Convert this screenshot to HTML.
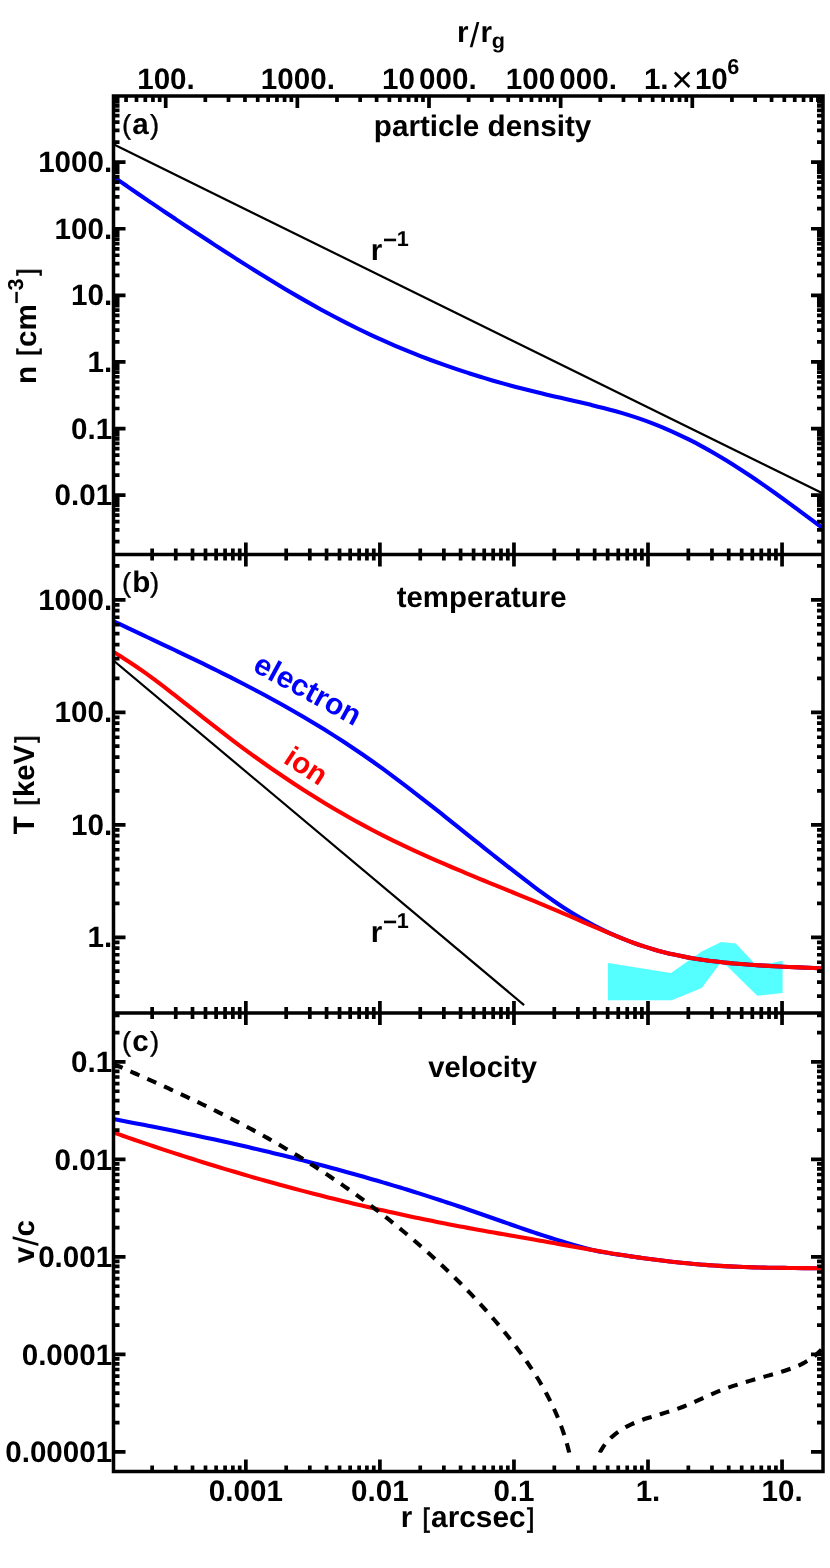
<!DOCTYPE html>
<html><head><meta charset="utf-8"><title>chart</title>
<style>
html,body{margin:0;padding:0;background:#fff;}
body{width:830px;height:1568px;overflow:hidden;}
svg{display:block;will-change:transform;}
text{font-family:"Liberation Sans",sans-serif;font-weight:bold;text-rendering:geometricPrecision;}
</style></head><body>
<svg width="830" height="1568" viewBox="0 0 830 1568">
<rect width="830" height="1568" fill="#fff"/>
<defs><clipPath id="cf"><rect x="113.5" y="96.1" width="709.5" height="1375.4"/></clipPath><clipPath id="cd"><rect x="113.5" y="1013" width="709.5" height="439.7"/></clipPath></defs>
<g clip-path="url(#cf)" fill="none" stroke-linejoin="round">
<polygon points="607.9,963 671,972.9 701.7,951.4 721.2,941.9 735.7,943.4 757,966 782.6,960.8 782.6,992.9 757.3,995.8 721.9,961 701.7,988.1 671.8,1000.2 607.9,1000.2" fill="#55ffff" stroke="none"/>
<line x1="113.5" y1="144.3" x2="823" y2="493.6" stroke="#000" stroke-width="2.2"/>
<line x1="113.5" y1="660.5" x2="524.1" y2="1005.1" stroke="#000" stroke-width="2.2"/>
<path d="M113.5,176.79C115.54,178.2 121.67,182.46 125.75,185.28C129.83,188.1 133.92,190.91 138,193.71C142.08,196.51 146.17,199.29 150.25,202.07C154.33,204.84 158.42,207.6 162.5,210.35C166.58,213.1 170.67,215.84 174.75,218.57C178.83,221.3 182.92,224.02 187,226.72C191.08,229.43 195.17,232.12 199.25,234.8C203.33,237.48 207.42,240.16 211.5,242.81C215.58,245.47 219.67,248.12 223.75,250.75C227.83,253.39 231.92,256.01 236,258.62C240.08,261.22 244.17,263.81 248.25,266.38C252.33,268.95 256.42,271.5 260.5,274.03C264.58,276.56 268.67,279.06 272.75,281.54C276.83,284.03 280.92,286.49 285,288.91C289.08,291.34 293.17,293.75 297.25,296.12C301.33,298.49 305.42,300.83 309.5,303.14C313.58,305.44 317.67,307.72 321.75,309.96C325.83,312.19 329.92,314.4 334,316.56C338.08,318.72 342.17,320.84 346.25,322.92C350.33,325 354.42,327.04 358.5,329.04C362.58,331.03 366.67,332.98 370.75,334.89C374.83,336.8 378.92,338.66 383,340.49C387.08,342.31 391.17,344.1 395.25,345.84C399.33,347.58 403.42,349.28 407.5,350.95C411.58,352.61 415.67,354.24 419.75,355.82C423.83,357.41 427.92,358.96 432,360.48C436.08,361.99 440.17,363.47 444.25,364.91C448.33,366.36 452.42,367.77 456.5,369.14C460.58,370.52 464.67,371.86 468.75,373.17C472.83,374.48 476.92,375.76 481,377.01C485.08,378.25 489.17,379.47 493.25,380.66C497.33,381.85 501.42,383 505.5,384.13C509.58,385.27 513.67,386.37 517.75,387.44C521.83,388.52 525.92,389.57 530,390.59C534.08,391.62 538.17,392.61 542.25,393.59C546.33,394.56 550.42,395.51 554.5,396.45C558.58,397.39 562.67,398.31 566.75,399.25C570.83,400.18 574.92,401.1 579,402.05C583.08,403 587.17,403.95 591.25,404.94C595.33,405.93 599.42,406.94 603.5,408C607.58,409.05 611.67,410.14 615.75,411.29C619.83,412.44 623.92,413.63 628,414.9C632.08,416.17 636.17,417.49 640.25,418.9C644.33,420.31 648.42,421.8 652.5,423.37C656.58,424.94 660.67,426.59 664.75,428.33C668.83,430.06 672.92,431.88 677,433.78C681.08,435.67 685.17,437.65 689.25,439.7C693.33,441.75 697.42,443.88 701.5,446.09C705.58,448.29 709.67,450.58 713.75,452.93C717.83,455.29 721.92,457.72 726,460.22C730.08,462.72 734.17,465.29 738.25,467.92C742.33,470.55 746.42,473.25 750.5,475.99C754.58,478.73 758.67,481.53 762.75,484.37C766.83,487.2 770.92,490.09 775,493C779.08,495.91 783.17,498.87 787.25,501.84C791.33,504.81 795.42,507.81 799.5,510.82C803.58,513.83 807.67,516.86 811.75,519.9C815.83,522.93 821.96,527.5 824,529.02" stroke="#0000ff" stroke-width="4.1"/>
<path d="M113.5,621.26C115.17,622.05 120.17,624.4 123.51,625.97C126.84,627.54 130.18,629.11 133.51,630.67C136.85,632.24 140.19,633.8 143.52,635.37C146.86,636.93 150.19,638.5 153.53,640.07C156.86,641.63 160.2,643.2 163.54,644.78C166.87,646.35 170.21,647.93 173.54,649.51C176.88,651.1 180.21,652.68 183.55,654.28C186.88,655.87 190.22,657.47 193.56,659.08C196.89,660.69 200.23,662.31 203.56,663.94C206.9,665.57 210.23,667.2 213.57,668.85C216.91,670.5 220.24,672.15 223.58,673.82C226.91,675.5 230.25,677.18 233.58,678.87C236.92,680.57 240.26,682.28 243.59,684.01C246.93,685.73 250.26,687.47 253.6,689.23C256.93,690.99 260.27,692.77 263.61,694.56C266.94,696.35 270.28,698.16 273.61,699.99C276.95,701.82 280.28,703.67 283.62,705.55C286.96,707.42 290.29,709.31 293.63,711.22C296.96,713.14 300.3,715.08 303.63,717.04C306.97,719 310.31,720.99 313.64,723C316.98,725.01 320.31,727.04 323.65,729.11C326.98,731.17 330.32,733.26 333.65,735.38C336.99,737.5 340.33,739.65 343.66,741.82C347,744 350.33,746.21 353.67,748.44C357,750.68 360.34,752.95 363.68,755.25C367.01,757.56 370.35,759.89 373.68,762.26C377.02,764.63 380.35,767.03 383.69,769.46C387.03,771.88 390.36,774.34 393.7,776.83C397.03,779.31 400.37,781.82 403.7,784.35C407.04,786.88 410.38,789.44 413.71,792.01C417.05,794.58 420.38,797.17 423.72,799.77C427.05,802.38 430.39,805 433.73,807.63C437.06,810.26 440.4,812.9 443.73,815.55C447.07,818.2 450.4,820.87 453.74,823.53C457.08,826.19 460.41,828.86 463.75,831.53C467.08,834.2 470.42,836.87 473.75,839.54C477.09,842.21 480.42,844.87 483.76,847.53C487.1,850.19 490.43,852.85 493.77,855.49C497.1,858.14 500.44,860.78 503.77,863.4C507.11,866.02 510.45,868.64 513.78,871.23C517.12,873.82 520.45,876.41 523.79,878.96C527.12,881.52 530.46,884.06 533.8,886.55C537.13,889.05 540.47,891.52 543.8,893.93C547.14,896.35 550.47,898.72 553.81,901.03C557.15,903.34 560.48,905.59 563.82,907.77C567.15,909.94 570.49,912.05 573.82,914.07C577.16,916.1 580.5,918.04 583.83,919.91C587.17,921.79 590.5,923.57 593.84,925.3C597.17,927.03 600.51,928.67 603.85,930.28C607.18,931.88 610.52,933.43 613.85,934.9C617.19,936.38 620.52,937.77 623.86,939.11C627.19,940.45 630.53,941.73 633.87,942.95C637.2,944.17 640.54,945.32 643.87,946.42C647.21,947.51 650.54,948.53 653.88,949.5C657.22,950.46 660.55,951.36 663.89,952.2C667.22,953.05 670.56,953.83 673.89,954.57C677.23,955.3 680.57,955.98 683.9,956.62C687.24,957.26 690.57,957.85 693.91,958.4C697.24,958.96 700.58,959.46 703.92,959.94C707.25,960.42 710.59,960.86 713.92,961.28C717.26,961.69 720.59,962.07 723.93,962.43C727.27,962.79 730.6,963.12 733.94,963.42C737.27,963.73 740.61,964.01 743.94,964.27C747.28,964.54 750.62,964.78 753.95,965C757.29,965.23 760.62,965.44 763.96,965.64C767.29,965.83 770.63,966.02 773.96,966.19C777.3,966.37 780.64,966.53 783.97,966.69C787.31,966.85 790.64,967 793.98,967.15C797.31,967.3 800.65,967.44 803.99,967.59C807.32,967.74 810.66,967.89 813.99,968.04C817.33,968.19 822.33,968.44 824,968.52" stroke="#0000ff" stroke-width="4.1"/>
<path d="M113.5,652.06C115.17,653.08 120.17,656.07 123.51,658.19C126.84,660.31 130.18,662.5 133.51,664.76C136.85,667.01 140.19,669.33 143.52,671.7C146.86,674.07 150.19,676.5 153.53,678.96C156.86,681.42 160.2,683.94 163.54,686.47C166.87,689.01 170.21,691.59 173.54,694.18C176.88,696.77 180.21,699.39 183.55,702.02C186.88,704.64 190.22,707.29 193.56,709.93C196.89,712.57 200.23,715.22 203.56,717.85C206.9,720.48 210.23,723.12 213.57,725.72C216.91,728.33 220.24,730.92 223.58,733.48C226.91,736.04 230.25,738.58 233.58,741.09C236.92,743.6 240.26,746.09 243.59,748.55C246.93,751.01 250.26,753.44 253.6,755.85C256.93,758.25 260.27,760.64 263.61,762.99C266.94,765.35 270.28,767.67 273.61,769.98C276.95,772.28 280.28,774.55 283.62,776.8C286.96,779.05 290.29,781.27 293.63,783.46C296.96,785.66 300.3,787.82 303.63,789.96C306.97,792.1 310.31,794.21 313.64,796.29C316.98,798.38 320.31,800.43 323.65,802.46C326.98,804.48 330.32,806.48 333.65,808.45C336.99,810.42 340.33,812.36 343.66,814.28C347,816.19 350.33,818.07 353.67,819.93C357,821.78 360.34,823.61 363.68,825.4C367.01,827.2 370.35,828.97 373.68,830.7C377.02,832.44 380.35,834.15 383.69,835.83C387.03,837.51 390.36,839.17 393.7,840.8C397.03,842.43 400.37,844.04 403.7,845.62C407.04,847.21 410.38,848.77 413.71,850.31C417.05,851.85 420.38,853.37 423.72,854.88C427.05,856.38 430.39,857.87 433.73,859.34C437.06,860.81 440.4,862.26 443.73,863.71C447.07,865.15 450.4,866.57 453.74,867.99C457.08,869.41 460.41,870.81 463.75,872.21C467.08,873.61 470.42,874.99 473.75,876.37C477.09,877.75 480.42,879.12 483.76,880.49C487.1,881.86 490.43,883.22 493.77,884.59C497.1,885.95 500.44,887.3 503.77,888.66C507.11,890.02 510.45,891.38 513.78,892.74C517.12,894.1 520.45,895.46 523.79,896.82C527.12,898.19 530.46,899.56 533.8,900.93C537.13,902.31 540.47,903.69 543.8,905.08C547.14,906.47 550.47,907.87 553.81,909.28C557.15,910.69 560.48,912.1 563.82,913.54C567.15,914.97 570.49,916.42 573.82,917.87C577.16,919.33 580.5,920.8 583.83,922.26C587.17,923.73 590.5,925.2 593.84,926.65C597.17,928.11 600.51,929.56 603.85,930.98C607.18,932.4 610.52,933.81 613.85,935.18C617.19,936.55 620.52,937.9 623.86,939.2C627.19,940.5 630.53,941.76 633.87,942.96C637.2,944.17 640.54,945.33 643.87,946.42C647.21,947.51 650.54,948.53 653.88,949.5C657.22,950.46 660.55,951.36 663.89,952.2C667.22,953.05 670.56,953.83 673.89,954.57C677.23,955.3 680.57,955.98 683.9,956.62C687.24,957.26 690.57,957.85 693.91,958.4C697.24,958.96 700.58,959.46 703.92,959.94C707.25,960.42 710.59,960.86 713.92,961.28C717.26,961.69 720.59,962.07 723.93,962.43C727.27,962.79 730.6,963.12 733.94,963.42C737.27,963.73 740.61,964.01 743.94,964.27C747.28,964.54 750.62,964.78 753.95,965C757.29,965.23 760.62,965.44 763.96,965.64C767.29,965.83 770.63,966.02 773.96,966.19C777.3,966.37 780.64,966.53 783.97,966.69C787.31,966.85 790.64,967 793.98,967.15C797.31,967.3 800.65,967.44 803.99,967.59C807.32,967.74 810.66,967.89 813.99,968.04C817.33,968.19 822.33,968.44 824,968.52" stroke="#ff0000" stroke-width="4.1"/>
<path d="M113.5,1119.08C115.17,1119.4 120.17,1120.34 123.51,1120.97C126.84,1121.61 130.18,1122.25 133.51,1122.89C136.85,1123.54 140.19,1124.19 143.52,1124.84C146.86,1125.5 150.19,1126.15 153.53,1126.82C156.86,1127.48 160.2,1128.15 163.54,1128.82C166.87,1129.5 170.21,1130.18 173.54,1130.86C176.88,1131.55 180.21,1132.23 183.55,1132.93C186.88,1133.62 190.22,1134.33 193.56,1135.03C196.89,1135.74 200.23,1136.45 203.56,1137.17C206.9,1137.88 210.23,1138.61 213.57,1139.34C216.91,1140.07 220.24,1140.8 223.58,1141.54C226.91,1142.29 230.25,1143.03 233.58,1143.79C236.92,1144.54 240.26,1145.3 243.59,1146.07C246.93,1146.84 250.26,1147.61 253.6,1148.39C256.93,1149.17 260.27,1149.96 263.61,1150.75C266.94,1151.55 270.28,1152.35 273.61,1153.16C276.95,1153.96 280.28,1154.78 283.62,1155.6C286.96,1156.42 290.29,1157.25 293.63,1158.09C296.96,1158.93 300.3,1159.77 303.63,1160.62C306.97,1161.47 310.31,1162.33 313.64,1163.2C316.98,1164.07 320.31,1164.94 323.65,1165.83C326.98,1166.71 330.32,1167.6 333.65,1168.5C336.99,1169.4 340.33,1170.31 343.66,1171.22C347,1172.14 350.33,1173.06 353.67,1173.99C357,1174.92 360.34,1175.86 363.68,1176.81C367.01,1177.76 370.35,1178.72 373.68,1179.69C377.02,1180.66 380.35,1181.63 383.69,1182.62C387.03,1183.6 390.36,1184.59 393.7,1185.6C397.03,1186.6 400.37,1187.61 403.7,1188.63C407.04,1189.65 410.38,1190.68 413.71,1191.72C417.05,1192.77 420.38,1193.81 423.72,1194.87C427.05,1195.93 430.39,1197 433.73,1198.08C437.06,1199.16 440.4,1200.25 443.73,1201.35C447.07,1202.45 450.4,1203.56 453.74,1204.68C457.08,1205.8 460.41,1206.93 463.75,1208.06C467.08,1209.2 470.42,1210.36 473.75,1211.51C477.09,1212.67 480.42,1213.83 483.76,1215C487.1,1216.17 490.43,1217.34 493.77,1218.51C497.1,1219.68 500.44,1220.85 503.77,1222.02C507.11,1223.18 510.45,1224.35 513.78,1225.5C517.12,1226.66 520.45,1227.81 523.79,1228.95C527.12,1230.09 530.46,1231.22 533.8,1232.34C537.13,1233.45 540.47,1234.56 543.8,1235.64C547.14,1236.73 550.47,1237.8 553.81,1238.85C557.15,1239.9 560.48,1240.93 563.82,1241.93C567.15,1242.93 570.49,1243.92 573.82,1244.87C577.16,1245.82 580.5,1246.75 583.83,1247.65C587.17,1248.54 590.5,1249.46 593.84,1250.24C597.17,1251.03 600.51,1251.74 603.85,1252.35C607.18,1252.96 610.52,1253.42 613.85,1253.91C617.19,1254.4 620.52,1254.82 623.86,1255.31C627.19,1255.79 630.53,1256.33 633.87,1256.82C637.2,1257.31 640.54,1257.79 643.87,1258.25C647.21,1258.71 650.54,1259.15 653.88,1259.58C657.22,1260.01 660.55,1260.42 663.89,1260.82C667.22,1261.22 670.56,1261.6 673.89,1261.96C677.23,1262.33 680.57,1262.67 683.9,1263C687.24,1263.33 690.57,1263.65 693.91,1263.94C697.24,1264.24 700.58,1264.51 703.92,1264.77C707.25,1265.03 710.59,1265.27 713.92,1265.49C717.26,1265.71 720.59,1265.92 723.93,1266.1C727.27,1266.29 730.6,1266.45 733.94,1266.6C737.27,1266.75 740.61,1266.89 743.94,1267.01C747.28,1267.13 750.62,1267.23 753.95,1267.33C757.29,1267.43 760.62,1267.51 763.96,1267.58C767.29,1267.66 770.63,1267.72 773.96,1267.78C777.3,1267.83 780.64,1267.88 783.97,1267.92C787.31,1267.97 790.64,1268 793.98,1268.04C797.31,1268.07 800.65,1268.1 803.99,1268.13C807.32,1268.16 810.66,1268.18 813.99,1268.21C817.33,1268.24 822.33,1268.28 824,1268.29" stroke="#0000ff" stroke-width="4.1"/>
<path d="M113.5,1132.43C115.17,1133.02 120.17,1134.8 123.51,1135.97C126.84,1137.14 130.18,1138.3 133.51,1139.46C136.85,1140.61 140.19,1141.76 143.52,1142.89C146.86,1144.03 150.19,1145.16 153.53,1146.28C156.86,1147.4 160.2,1148.51 163.54,1149.62C166.87,1150.72 170.21,1151.82 173.54,1152.9C176.88,1153.99 180.21,1155.07 183.55,1156.14C186.88,1157.21 190.22,1158.27 193.56,1159.32C196.89,1160.38 200.23,1161.42 203.56,1162.46C206.9,1163.5 210.23,1164.53 213.57,1165.55C216.91,1166.57 220.24,1167.58 223.58,1168.59C226.91,1169.59 230.25,1170.59 233.58,1171.58C236.92,1172.56 240.26,1173.54 243.59,1174.52C246.93,1175.49 250.26,1176.45 253.6,1177.41C256.93,1178.36 260.27,1179.31 263.61,1180.25C266.94,1181.19 270.28,1182.12 273.61,1183.04C276.95,1183.97 280.28,1184.88 283.62,1185.79C286.96,1186.7 290.29,1187.6 293.63,1188.49C296.96,1189.38 300.3,1190.26 303.63,1191.14C306.97,1192.01 310.31,1192.88 313.64,1193.74C316.98,1194.6 320.31,1195.45 323.65,1196.29C326.98,1197.13 330.32,1197.97 333.65,1198.8C336.99,1199.62 340.33,1200.44 343.66,1201.26C347,1202.07 350.33,1202.87 353.67,1203.67C357,1204.46 360.34,1205.25 363.68,1206.03C367.01,1206.81 370.35,1207.58 373.68,1208.35C377.02,1209.11 380.35,1209.87 383.69,1210.62C387.03,1211.37 390.36,1212.11 393.7,1212.84C397.03,1213.57 400.37,1214.3 403.7,1215.02C407.04,1215.73 410.38,1216.44 413.71,1217.15C417.05,1217.85 420.38,1218.54 423.72,1219.23C427.05,1219.92 430.39,1220.6 433.73,1221.27C437.06,1221.94 440.4,1222.6 443.73,1223.26C447.07,1223.92 450.4,1224.56 453.74,1225.2C457.08,1225.85 460.41,1226.48 463.75,1227.1C467.08,1227.73 470.42,1228.35 473.75,1228.96C477.09,1229.57 480.42,1230.18 483.76,1230.78C487.1,1231.38 490.43,1231.97 493.77,1232.57C497.1,1233.16 500.44,1233.75 503.77,1234.33C507.11,1234.92 510.45,1235.5 513.78,1236.08C517.12,1236.67 520.45,1237.25 523.79,1237.83C527.12,1238.41 530.46,1238.99 533.8,1239.57C537.13,1240.15 540.47,1240.74 543.8,1241.32C547.14,1241.91 550.47,1242.5 553.81,1243.09C557.15,1243.68 560.48,1244.28 563.82,1244.88C567.15,1245.48 570.49,1246.08 573.82,1246.69C577.16,1247.29 580.5,1247.89 583.83,1248.49C587.17,1249.09 590.5,1249.69 593.84,1250.28C597.17,1250.86 600.51,1251.45 603.85,1252.02C607.18,1252.59 610.52,1253.15 613.85,1253.7C617.19,1254.25 620.52,1254.78 623.86,1255.3C627.19,1255.82 630.53,1256.33 633.87,1256.82C637.2,1257.31 640.54,1257.79 643.87,1258.25C647.21,1258.71 650.54,1259.15 653.88,1259.58C657.22,1260.01 660.55,1260.42 663.89,1260.82C667.22,1261.22 670.56,1261.6 673.89,1261.96C677.23,1262.33 680.57,1262.67 683.9,1263C687.24,1263.33 690.57,1263.65 693.91,1263.94C697.24,1264.24 700.58,1264.51 703.92,1264.77C707.25,1265.03 710.59,1265.27 713.92,1265.49C717.26,1265.71 720.59,1265.92 723.93,1266.1C727.27,1266.29 730.6,1266.45 733.94,1266.6C737.27,1266.75 740.61,1266.89 743.94,1267.01C747.28,1267.13 750.62,1267.23 753.95,1267.33C757.29,1267.43 760.62,1267.51 763.96,1267.58C767.29,1267.66 770.63,1267.72 773.96,1267.78C777.3,1267.83 780.64,1267.88 783.97,1267.92C787.31,1267.97 790.64,1268 793.98,1268.04C797.31,1268.07 800.65,1268.1 803.99,1268.13C807.32,1268.16 810.66,1268.18 813.99,1268.21C817.33,1268.24 822.33,1268.28 824,1268.29" stroke="#ff0000" stroke-width="4.1"/>
</g>
<g clip-path="url(#cd)" fill="none">
<path d="M113.64,1063.98C114.56,1064.38 117.33,1065.6 119.18,1066.41C121.02,1067.22 122.87,1068.04 124.72,1068.85C126.57,1069.67 128.42,1070.48 130.26,1071.3C132.11,1072.12 133.96,1072.93 135.81,1073.75C137.66,1074.57 139.51,1075.4 141.36,1076.22C143.21,1077.04 145.06,1077.87 146.91,1078.7C148.76,1079.52 150.61,1080.35 152.46,1081.18C154.31,1082.01 156.16,1082.85 158.01,1083.68C159.86,1084.52 161.7,1085.36 163.55,1086.2C165.4,1087.04 167.25,1087.88 169.09,1088.73C170.94,1089.57 172.79,1090.42 174.63,1091.27C176.47,1092.12 178.32,1092.97 180.16,1093.83C182,1094.69 183.85,1095.54 185.69,1096.41C187.53,1097.27 189.37,1098.13 191.2,1099C193.04,1099.87 194.88,1100.74 196.71,1101.62C198.55,1102.49 200.38,1103.37 202.21,1104.25C204.05,1105.14 205.88,1106.02 207.7,1106.91C209.53,1107.8 211.36,1108.7 213.18,1109.59C215.01,1110.49 216.83,1111.39 218.65,1112.3C220.47,1113.2 222.29,1114.11 224.11,1115.03C225.92,1115.94 227.74,1116.86 229.55,1117.78C231.36,1118.7 233.17,1119.63 234.97,1120.56C236.78,1121.5 238.58,1122.43 240.38,1123.37C242.18,1124.31 243.98,1125.26 245.78,1126.21C247.57,1127.16 249.36,1128.12 251.15,1129.08C252.94,1130.04 254.73,1131 256.51,1131.98C258.29,1132.95 260.07,1133.92 261.85,1134.91C263.62,1135.89 265.4,1136.88 267.17,1137.87C268.93,1138.86 270.7,1139.86 272.46,1140.87C274.22,1141.87 275.98,1142.88 277.74,1143.9C279.49,1144.91 281.24,1145.93 282.99,1146.96C284.74,1147.99 286.48,1149.02 288.22,1150.06C289.96,1151.09 291.7,1152.14 293.43,1153.19C295.17,1154.23 296.9,1155.29 298.62,1156.35C300.35,1157.41 302.07,1158.47 303.79,1159.55C305.51,1160.62 307.22,1161.69 308.93,1162.78C310.64,1163.86 312.35,1164.95 314.06,1166.04C315.76,1167.13 317.46,1168.23 319.16,1169.34C320.85,1170.44 322.54,1171.55 324.23,1172.67C325.92,1173.78 327.61,1174.9 329.29,1176.03C330.97,1177.16 332.65,1178.29 334.32,1179.43C335.99,1180.57 337.66,1181.71 339.33,1182.86C341,1184.01 342.66,1185.16 344.32,1186.32C345.97,1187.48 347.63,1188.65 349.28,1189.82C350.93,1190.99 352.58,1192.17 354.22,1193.35C355.86,1194.53 357.5,1195.72 359.14,1196.91C360.77,1198.1 362.4,1199.3 364.03,1200.51C365.65,1201.71 367.28,1202.92 368.9,1204.14C370.52,1205.35 372.13,1206.57 373.74,1207.8C375.35,1209.02 376.96,1210.26 378.56,1211.49C380.17,1212.73 381.76,1213.97 383.36,1215.22C384.95,1216.47 386.55,1217.73 388.13,1218.98C389.72,1220.24 391.3,1221.51 392.88,1222.78C394.46,1224.05 396.03,1225.33 397.6,1226.61C399.17,1227.89 400.74,1229.18 402.3,1230.47C403.86,1231.76 405.42,1233.06 406.98,1234.36C408.53,1235.67 410.08,1236.98 411.63,1238.29C413.17,1239.6 414.71,1240.92 416.25,1242.25C417.79,1243.58 419.32,1244.91 420.85,1246.24C422.38,1247.58 423.9,1248.92 425.42,1250.27C426.94,1251.62 428.45,1252.97 429.96,1254.33C431.47,1255.69 432.98,1257.05 434.48,1258.42C435.98,1259.8 437.47,1261.17 438.96,1262.55C440.45,1263.94 441.94,1265.32 443.42,1266.72C444.9,1268.11 446.37,1269.51 447.84,1270.92C449.31,1272.32 450.77,1273.73 452.23,1275.15C453.68,1276.57 455.13,1277.99 456.58,1279.42C458.02,1280.85 459.46,1282.28 460.9,1283.72C462.33,1285.17 463.76,1286.61 465.18,1288.07C466.6,1289.52 468.01,1290.98 469.42,1292.44C470.83,1293.91 472.23,1295.38 473.62,1296.86C475.02,1298.34 476.41,1299.82 477.79,1301.31C479.17,1302.8 480.54,1304.3 481.91,1305.8C483.27,1307.31 484.63,1308.82 485.99,1310.33C487.34,1311.85 488.68,1313.37 490.02,1314.9C491.36,1316.43 492.69,1317.96 494.01,1319.5C495.33,1321.04 496.65,1322.59 497.95,1324.15C499.26,1325.7 500.56,1327.26 501.85,1328.83C503.14,1330.4 504.42,1331.97 505.7,1333.55C506.97,1335.13 508.24,1336.72 509.5,1338.32C510.75,1339.91 512,1341.51 513.24,1343.12C514.48,1344.73 515.7,1346.35 516.92,1347.97C518.14,1349.59 519.34,1351.22 520.54,1352.86C521.73,1354.5 522.92,1356.14 524.08,1357.8C525.25,1359.45 526.41,1361.11 527.56,1362.78C528.7,1364.45 529.83,1366.13 530.95,1367.82C532.06,1369.5 533.16,1371.2 534.25,1372.9C535.34,1374.6 536.41,1376.32 537.46,1378.04C538.52,1379.76 539.56,1381.49 540.58,1383.23C541.6,1384.96 542.61,1386.71 543.6,1388.47C544.58,1390.23 545.55,1391.99 546.5,1393.77C547.46,1395.55 548.39,1397.33 549.3,1399.13C550.22,1400.92 551.11,1402.73 551.98,1404.54C552.86,1406.36 553.71,1408.18 554.54,1410.02C555.37,1411.85 556.18,1413.7 556.97,1415.56C557.76,1417.41 558.53,1419.28 559.27,1421.16C560.02,1423.04 560.74,1424.93 561.43,1426.83C562.13,1428.73 562.81,1430.64 563.45,1432.56C564.1,1434.48 564.73,1436.41 565.33,1438.36C565.92,1440.3 566.5,1442.26 567.05,1444.23C567.59,1446.2 568.11,1448.18 568.61,1450.17C569.1,1452.16 569.57,1454.17 570,1456.18C570.44,1458.2 571.03,1461.25 571.23,1462.27" stroke="#000" stroke-width="4.1" stroke-dasharray="9.8 8.6"/>
<path d="M599.6,1452.75C600.15,1451.84 601.71,1449.03 602.89,1447.29C604.08,1445.55 605.35,1443.9 606.68,1442.32C608.02,1440.75 609.44,1439.25 610.91,1437.83C612.38,1436.42 613.93,1435.08 615.53,1433.81C617.12,1432.54 618.78,1431.35 620.48,1430.23C622.18,1429.11 623.93,1428.06 625.72,1427.08C627.5,1426.09 629.34,1425.19 631.19,1424.33C633.05,1423.47 634.94,1422.68 636.85,1421.92C638.76,1421.16 640.7,1420.46 642.64,1419.78C644.59,1419.09 646.56,1418.45 648.52,1417.82C650.49,1417.19 652.47,1416.58 654.44,1415.98C656.41,1415.37 658.39,1414.79 660.36,1414.19C662.33,1413.59 664.31,1413.01 666.27,1412.4C668.24,1411.8 670.2,1411.19 672.16,1410.56C674.11,1409.93 676.06,1409.29 678,1408.61C679.94,1407.94 681.87,1407.25 683.78,1406.51C685.7,1405.78 687.6,1405.01 689.5,1404.21C691.39,1403.41 693.27,1402.57 695.15,1401.72C697.02,1400.87 698.89,1399.99 700.76,1399.13C702.63,1398.27 704.49,1397.39 706.37,1396.54C708.24,1395.68 710.12,1394.83 712,1394.02C713.89,1393.21 715.78,1392.43 717.69,1391.67C719.59,1390.9 721.5,1390.17 723.42,1389.46C725.34,1388.74 727.27,1388.06 729.2,1387.38C731.13,1386.71 733.08,1386.06 735.02,1385.42C736.97,1384.78 738.92,1384.16 740.88,1383.55C742.83,1382.94 744.79,1382.34 746.76,1381.75C748.73,1381.17 750.7,1380.59 752.67,1380.01C754.65,1379.44 756.62,1378.88 758.6,1378.31C760.58,1377.75 762.57,1377.19 764.55,1376.63C766.54,1376.07 768.52,1375.51 770.51,1374.94C772.5,1374.38 774.49,1373.82 776.48,1373.24C778.46,1372.65 780.45,1372.07 782.42,1371.46C784.39,1370.85 786.36,1370.22 788.3,1369.55C790.24,1368.87 792.18,1368.18 794.08,1367.43C795.98,1366.67 797.86,1365.88 799.7,1365.02C801.55,1364.16 803.36,1363.26 805.13,1362.27C806.91,1361.28 808.64,1360.24 810.33,1359.1C812.01,1357.96 813.66,1356.75 815.24,1355.43C816.83,1354.11 818.36,1352.71 819.83,1351.2C821.3,1349.68 823.35,1347.14 824.05,1346.33" stroke="#000" stroke-width="4.1" stroke-dasharray="9.8 8.6" stroke-dashoffset="0"/>
</g>
<path d="M126.07,96.1V102.1M136.49,96.1V102.1M145.31,96.1V102.1M152.94,96.1V102.1M159.68,96.1V102.1M165.7,96.1V108.1M205.33,96.1V102.1M228.51,96.1V102.1M244.96,96.1V102.1M257.72,96.1V102.1M268.14,96.1V102.1M276.96,96.1V102.1M284.59,96.1V102.1M291.33,96.1V102.1M297.35,96.1V108.1M336.98,96.1V102.1M360.16,96.1V102.1M376.61,96.1V102.1M389.37,96.1V102.1M399.79,96.1V102.1M408.61,96.1V102.1M416.24,96.1V102.1M422.98,96.1V102.1M429,96.1V108.1M468.63,96.1V102.1M491.81,96.1V102.1M508.26,96.1V102.1M521.02,96.1V102.1M531.44,96.1V102.1M540.26,96.1V102.1M547.89,96.1V102.1M554.63,96.1V102.1M560.65,96.1V108.1M600.28,96.1V102.1M623.46,96.1V102.1M639.91,96.1V102.1M652.67,96.1V102.1M663.09,96.1V102.1M671.91,96.1V102.1M679.54,96.1V102.1M686.28,96.1V102.1M692.3,96.1V108.1M731.93,96.1V102.1M755.11,96.1V102.1M771.56,96.1V102.1M784.32,96.1V102.1M794.74,96.1V102.1M803.56,96.1V102.1M811.19,96.1V102.1M817.93,96.1V102.1M152.15,1471.5V1465.5M152.15,548.6V560.6M152.15,1006.9V1018.9M175.76,1471.5V1465.5M175.76,548.6V560.6M175.76,1006.9V1018.9M192.51,1471.5V1465.5M192.51,548.6V560.6M192.51,1006.9V1018.9M205.5,1471.5V1465.5M205.5,548.6V560.6M205.5,1006.9V1018.9M216.11,1471.5V1465.5M216.11,548.6V560.6M216.11,1006.9V1018.9M225.09,1471.5V1465.5M225.09,548.6V560.6M225.09,1006.9V1018.9M232.86,1471.5V1465.5M232.86,548.6V560.6M232.86,1006.9V1018.9M239.72,1471.5V1465.5M239.72,548.6V560.6M239.72,1006.9V1018.9M245.85,1471.5V1459.5M245.85,542.6V566.6M245.85,1000.9V1024.9M286.2,1471.5V1465.5M286.2,548.6V560.6M286.2,1006.9V1018.9M309.81,1471.5V1465.5M309.81,548.6V560.6M309.81,1006.9V1018.9M326.56,1471.5V1465.5M326.56,548.6V560.6M326.56,1006.9V1018.9M339.55,1471.5V1465.5M339.55,548.6V560.6M339.55,1006.9V1018.9M350.16,1471.5V1465.5M350.16,548.6V560.6M350.16,1006.9V1018.9M359.14,1471.5V1465.5M359.14,548.6V560.6M359.14,1006.9V1018.9M366.91,1471.5V1465.5M366.91,548.6V560.6M366.91,1006.9V1018.9M373.77,1471.5V1465.5M373.77,548.6V560.6M373.77,1006.9V1018.9M379.9,1471.5V1459.5M379.9,542.6V566.6M379.9,1000.9V1024.9M420.25,1471.5V1465.5M420.25,548.6V560.6M420.25,1006.9V1018.9M443.86,1471.5V1465.5M443.86,548.6V560.6M443.86,1006.9V1018.9M460.61,1471.5V1465.5M460.61,548.6V560.6M460.61,1006.9V1018.9M473.6,1471.5V1465.5M473.6,548.6V560.6M473.6,1006.9V1018.9M484.21,1471.5V1465.5M484.21,548.6V560.6M484.21,1006.9V1018.9M493.19,1471.5V1465.5M493.19,548.6V560.6M493.19,1006.9V1018.9M500.96,1471.5V1465.5M500.96,548.6V560.6M500.96,1006.9V1018.9M507.82,1471.5V1465.5M507.82,548.6V560.6M507.82,1006.9V1018.9M513.95,1471.5V1459.5M513.95,542.6V566.6M513.95,1000.9V1024.9M554.3,1471.5V1465.5M554.3,548.6V560.6M554.3,1006.9V1018.9M577.91,1471.5V1465.5M577.91,548.6V560.6M577.91,1006.9V1018.9M594.66,1471.5V1465.5M594.66,548.6V560.6M594.66,1006.9V1018.9M607.65,1471.5V1465.5M607.65,548.6V560.6M607.65,1006.9V1018.9M618.26,1471.5V1465.5M618.26,548.6V560.6M618.26,1006.9V1018.9M627.24,1471.5V1465.5M627.24,548.6V560.6M627.24,1006.9V1018.9M635.01,1471.5V1465.5M635.01,548.6V560.6M635.01,1006.9V1018.9M641.87,1471.5V1465.5M641.87,548.6V560.6M641.87,1006.9V1018.9M648,1471.5V1459.5M648,542.6V566.6M648,1000.9V1024.9M688.35,1471.5V1465.5M688.35,548.6V560.6M688.35,1006.9V1018.9M711.96,1471.5V1465.5M711.96,548.6V560.6M711.96,1006.9V1018.9M728.71,1471.5V1465.5M728.71,548.6V560.6M728.71,1006.9V1018.9M741.7,1471.5V1465.5M741.7,548.6V560.6M741.7,1006.9V1018.9M752.31,1471.5V1465.5M752.31,548.6V560.6M752.31,1006.9V1018.9M761.29,1471.5V1465.5M761.29,548.6V560.6M761.29,1006.9V1018.9M769.06,1471.5V1465.5M769.06,548.6V560.6M769.06,1006.9V1018.9M775.92,1471.5V1465.5M775.92,548.6V560.6M775.92,1006.9V1018.9M782.05,1471.5V1459.5M782.05,542.6V566.6M782.05,1000.9V1024.9M113.5,541.7H119.5M823,541.7H817M113.5,529.97H119.5M823,529.97H817M113.5,521.65H119.5M823,521.65H817M113.5,515.2H119.5M823,515.2H817M113.5,509.93H119.5M823,509.93H817M113.5,505.47H119.5M823,505.47H817M113.5,501.6H119.5M823,501.6H817M113.5,498.2H119.5M823,498.2H817M113.5,495.15H125.5M823,495.15H811M113.5,475.1H119.5M823,475.1H817M113.5,463.37H119.5M823,463.37H817M113.5,455.05H119.5M823,455.05H817M113.5,448.6H119.5M823,448.6H817M113.5,443.33H119.5M823,443.33H817M113.5,438.87H119.5M823,438.87H817M113.5,435H119.5M823,435H817M113.5,431.6H119.5M823,431.6H817M113.5,428.55H125.5M823,428.55H811M113.5,408.5H119.5M823,408.5H817M113.5,396.77H119.5M823,396.77H817M113.5,388.45H119.5M823,388.45H817M113.5,382H119.5M823,382H817M113.5,376.73H119.5M823,376.73H817M113.5,372.27H119.5M823,372.27H817M113.5,368.4H119.5M823,368.4H817M113.5,365H119.5M823,365H817M113.5,361.95H125.5M823,361.95H811M113.5,341.9H119.5M823,341.9H817M113.5,330.17H119.5M823,330.17H817M113.5,321.85H119.5M823,321.85H817M113.5,315.4H119.5M823,315.4H817M113.5,310.13H119.5M823,310.13H817M113.5,305.67H119.5M823,305.67H817M113.5,301.8H119.5M823,301.8H817M113.5,298.4H119.5M823,298.4H817M113.5,295.35H125.5M823,295.35H811M113.5,275.3H119.5M823,275.3H817M113.5,263.57H119.5M823,263.57H817M113.5,255.25H119.5M823,255.25H817M113.5,248.8H119.5M823,248.8H817M113.5,243.53H119.5M823,243.53H817M113.5,239.07H119.5M823,239.07H817M113.5,235.2H119.5M823,235.2H817M113.5,231.8H119.5M823,231.8H817M113.5,228.75H125.5M823,228.75H811M113.5,208.7H119.5M823,208.7H817M113.5,196.97H119.5M823,196.97H817M113.5,188.65H119.5M823,188.65H817M113.5,182.2H119.5M823,182.2H817M113.5,176.93H119.5M823,176.93H817M113.5,172.47H119.5M823,172.47H817M113.5,168.6H119.5M823,168.6H817M113.5,165.2H119.5M823,165.2H817M113.5,162.15H125.5M823,162.15H811M113.5,142.1H119.5M823,142.1H817M113.5,130.37H119.5M823,130.37H817M113.5,122.05H119.5M823,122.05H817M113.5,115.6H119.5M823,115.6H817M113.5,110.33H119.5M823,110.33H817M113.5,105.87H119.5M823,105.87H817M113.5,102H119.5M823,102H817M113.5,98.6H119.5M823,98.6H817M113.5,996.12H119.5M823,996.12H817M113.5,982.07H119.5M823,982.07H817M113.5,971.17H119.5M823,971.17H817M113.5,962.26H119.5M823,962.26H817M113.5,954.73H119.5M823,954.73H817M113.5,948.2H119.5M823,948.2H817M113.5,942.45H119.5M823,942.45H817M113.5,937.3H125.5M823,937.3H811M113.5,903.43H119.5M823,903.43H817M113.5,883.62H119.5M823,883.62H817M113.5,869.57H119.5M823,869.57H817M113.5,858.67H119.5M823,858.67H817M113.5,849.76H119.5M823,849.76H817M113.5,842.23H119.5M823,842.23H817M113.5,835.7H119.5M823,835.7H817M113.5,829.95H119.5M823,829.95H817M113.5,824.8H125.5M823,824.8H811M113.5,790.93H119.5M823,790.93H817M113.5,771.12H119.5M823,771.12H817M113.5,757.07H119.5M823,757.07H817M113.5,746.17H119.5M823,746.17H817M113.5,737.26H119.5M823,737.26H817M113.5,729.73H119.5M823,729.73H817M113.5,723.2H119.5M823,723.2H817M113.5,717.45H119.5M823,717.45H817M113.5,712.3H125.5M823,712.3H811M113.5,678.43H119.5M823,678.43H817M113.5,658.62H119.5M823,658.62H817M113.5,644.57H119.5M823,644.57H817M113.5,633.67H119.5M823,633.67H817M113.5,624.76H119.5M823,624.76H817M113.5,617.23H119.5M823,617.23H817M113.5,610.7H119.5M823,610.7H817M113.5,604.95H119.5M823,604.95H817M113.5,599.8H125.5M823,599.8H811M113.5,565.93H119.5M823,565.93H817M113.5,1451.9H125.5M823,1451.9H811M113.5,1422.55H119.5M823,1422.55H817M113.5,1405.38H119.5M823,1405.38H817M113.5,1393.2H119.5M823,1393.2H817M113.5,1383.75H119.5M823,1383.75H817M113.5,1376.03H119.5M823,1376.03H817M113.5,1369.5H119.5M823,1369.5H817M113.5,1363.85H119.5M823,1363.85H817M113.5,1358.86H119.5M823,1358.86H817M113.5,1354.4H125.5M823,1354.4H811M113.5,1325.05H119.5M823,1325.05H817M113.5,1307.88H119.5M823,1307.88H817M113.5,1295.7H119.5M823,1295.7H817M113.5,1286.25H119.5M823,1286.25H817M113.5,1278.53H119.5M823,1278.53H817M113.5,1272H119.5M823,1272H817M113.5,1266.35H119.5M823,1266.35H817M113.5,1261.36H119.5M823,1261.36H817M113.5,1256.9H125.5M823,1256.9H811M113.5,1227.55H119.5M823,1227.55H817M113.5,1210.38H119.5M823,1210.38H817M113.5,1198.2H119.5M823,1198.2H817M113.5,1188.75H119.5M823,1188.75H817M113.5,1181.03H119.5M823,1181.03H817M113.5,1174.5H119.5M823,1174.5H817M113.5,1168.85H119.5M823,1168.85H817M113.5,1163.86H119.5M823,1163.86H817M113.5,1159.4H125.5M823,1159.4H811M113.5,1130.05H119.5M823,1130.05H817M113.5,1112.88H119.5M823,1112.88H817M113.5,1100.7H119.5M823,1100.7H817M113.5,1091.25H119.5M823,1091.25H817M113.5,1083.53H119.5M823,1083.53H817M113.5,1077H119.5M823,1077H817M113.5,1071.35H119.5M823,1071.35H817M113.5,1066.36H119.5M823,1066.36H817M113.5,1061.9H125.5M823,1061.9H811M113.5,1032.55H119.5M823,1032.55H817M113.5,1015.38H119.5M823,1015.38H817" stroke="#000" stroke-width="3.7" fill="none"/>
<path d="M113.5,96.1H823V1471.5H113.5Z M113.5,554.6H823 M113.5,1012.9H823" stroke="#000" stroke-width="3.5" fill="none" stroke-linejoin="miter"/>
<text x="166" y="88.6" text-anchor="middle" font-size="29.6" fill="#000" >100.</text>
<text x="297.9" y="88.6" text-anchor="middle" font-size="29.6" fill="#000" >1000.</text>
<text x="429.4" y="88.6" text-anchor="middle" font-size="29.6" fill="#000" >10<tspan dx="4.1">000.</tspan></text>
<text x="561.4" y="88.6" text-anchor="middle" font-size="29.6" fill="#000" >100<tspan dx="4.1">000.</tspan></text>
<text y="88.6" font-size="29.6"><tspan x="643.9">1.</tspan><tspan x="671.3" dy="3.6" font-size="37" style="font-weight:normal">&#215;</tspan><tspan x="694.9" dy="-3.6">10</tspan><tspan x="727.2" dy="-14.3" font-size="21.6">6</tspan></text>
<text y="41.9" font-size="29.6"><tspan x="457.0">r</tspan><tspan x="469.8" dy="5.3" font-size="34.5" style="font-weight:normal">/</tspan><tspan x="480.5" dy="-5.3">r</tspan><tspan x="491.7" dy="5.8" font-size="21.6">g</tspan></text>
<text x="112.2" y="172.25" text-anchor="end" font-size="29.6" fill="#000" >1000.</text>
<text x="112.2" y="238.85" text-anchor="end" font-size="29.6" fill="#000" >100.</text>
<text x="112.2" y="305.45" text-anchor="end" font-size="29.6" fill="#000" >10.</text>
<text x="112.2" y="372.05" text-anchor="end" font-size="29.6" fill="#000" >1.</text>
<text x="112.2" y="438.65" text-anchor="end" font-size="29.6" fill="#000" >0.1</text>
<text x="112.2" y="505.25" text-anchor="end" font-size="29.6" fill="#000" >0.01</text>
<text x="112.2" y="609.9" text-anchor="end" font-size="29.6" fill="#000" >1000.</text>
<text x="112.2" y="722.4" text-anchor="end" font-size="29.6" fill="#000" >100.</text>
<text x="112.2" y="834.9" text-anchor="end" font-size="29.6" fill="#000" >10.</text>
<text x="112.2" y="947.4" text-anchor="end" font-size="29.6" fill="#000" >1.</text>
<text x="112.2" y="1072" text-anchor="end" font-size="29.6" fill="#000" >0.1</text>
<text x="112.2" y="1169.5" text-anchor="end" font-size="29.6" fill="#000" >0.01</text>
<text x="112.2" y="1267" text-anchor="end" font-size="29.6" fill="#000" >0.001</text>
<text x="112.2" y="1364.5" text-anchor="end" font-size="29.6" fill="#000" >0.0001</text>
<text x="112.2" y="1462" text-anchor="end" font-size="29.6" fill="#000" >0.00001</text>
<text x="245.85" y="1501" text-anchor="middle" font-size="29.6" fill="#000" >0.001</text>
<text x="379.9" y="1501" text-anchor="middle" font-size="29.6" fill="#000" >0.01</text>
<text x="513.95" y="1501" text-anchor="middle" font-size="29.6" fill="#000" >0.1</text>
<text x="648" y="1501" text-anchor="middle" font-size="29.6" fill="#000" >1.</text>
<text x="782.05" y="1501" text-anchor="middle" font-size="29.6" fill="#000" >10.</text>
<text y="1527.1" font-size="29.6"><tspan x="400.65">r </tspan><tspan x="422.3" style="font-weight:normal" font-size="27" stroke="#000" stroke-width="0.6">[</tspan><tspan x="431.1" font-size="29.8">arcsec</tspan><tspan x="527.05" style="font-weight:normal" font-size="27" stroke="#000" stroke-width="0.6">]</tspan></text>
<text x="482.6" y="135.5" text-anchor="middle" font-size="29.6" fill="#000" textLength="217.5" lengthAdjust="spacingAndGlyphs">particle density</text>
<text x="481.6" y="606.8" text-anchor="middle" font-size="29.4" fill="#000" >temperature</text>
<text x="482.6" y="1077.3" text-anchor="middle" font-size="29.2" fill="#000" >velocity</text>
<text x="121.9" y="133.7" font-size="27.5" font-family="Liberation Serif, serif" style="font-weight:normal" stroke="#000" stroke-width="0.35">(</text>
<text x="132.25" y="134" text-anchor="start" font-size="29.6" fill="#000" >a</text>
<text x="150" y="133.7" font-size="27.5" font-family="Liberation Serif, serif" style="font-weight:normal" stroke="#000" stroke-width="0.35">)</text>
<text x="121.9" y="592.1" font-size="27.5" font-family="Liberation Serif, serif" style="font-weight:normal" stroke="#000" stroke-width="0.35">(</text>
<text x="132.25" y="592.4" text-anchor="start" font-size="29.6" fill="#000" >b</text>
<text x="150" y="592.1" font-size="27.5" font-family="Liberation Serif, serif" style="font-weight:normal" stroke="#000" stroke-width="0.35">)</text>
<text x="121.9" y="1050.5" font-size="27.5" font-family="Liberation Serif, serif" style="font-weight:normal" stroke="#000" stroke-width="0.35">(</text>
<text x="132.25" y="1050.8" text-anchor="start" font-size="29.6" fill="#000" >c</text>
<text x="150" y="1050.5" font-size="27.5" font-family="Liberation Serif, serif" style="font-weight:normal" stroke="#000" stroke-width="0.35">)</text>
<text y="259.5" font-size="29.6"><tspan x="370.7">r</tspan><tspan x="383" dy="-11.4" font-size="24.2">&#8722;</tspan><tspan x="396.7" dy="-2.6" font-size="21.6">1</tspan></text>
<text y="941.7" font-size="29.6"><tspan x="370.7">r</tspan><tspan x="383" dy="-11.4" font-size="24.2">&#8722;</tspan><tspan x="396.7" dy="-2.6" font-size="21.6">1</tspan></text>
<text transform="translate(251.6,670.4) rotate(28.5)" font-size="30.1" fill="#0000ff">electron</text>
<text transform="translate(282.3,762.3) rotate(33)" font-size="29.5" fill="#ff0000">ion</text>
<g transform="translate(36.1,383.9) rotate(-90)"><text y="0" font-size="29.6"><tspan x="0">n </tspan><tspan x="27.9" style="font-weight:normal" font-size="27" stroke="#000" stroke-width="0.6">[</tspan><tspan x="36.95">cm</tspan><tspan x="79.85" dy="-12.05" font-size="22.4">&#8722;</tspan><tspan x="93.5" dy="-1.25" font-size="21.6">3</tspan><tspan x="108.05" dy="13.3" style="font-weight:normal" font-size="27" stroke="#000" stroke-width="0.6">]</tspan></text></g>
<g transform="translate(33.7,834.2) rotate(-90)"><text y="0" font-size="29.6"><tspan x="0">T </tspan><tspan x="28.45" style="font-weight:normal" font-size="27" stroke="#000" stroke-width="0.6">[</tspan><tspan x="37.1" font-size="29.3">keV</tspan><tspan x="91.55" style="font-weight:normal" font-size="27" stroke="#000" stroke-width="0.6">]</tspan></text></g>
<g transform="translate(33.8,1263.1) rotate(-90)"><text y="0" font-size="29.6"><tspan x="0">v</tspan><tspan x="17.0" dy="4.4" font-size="35" style="font-weight:normal">/</tspan><tspan x="26.6" dy="-4.4">c</tspan></text></g>
</svg>
</body></html>
